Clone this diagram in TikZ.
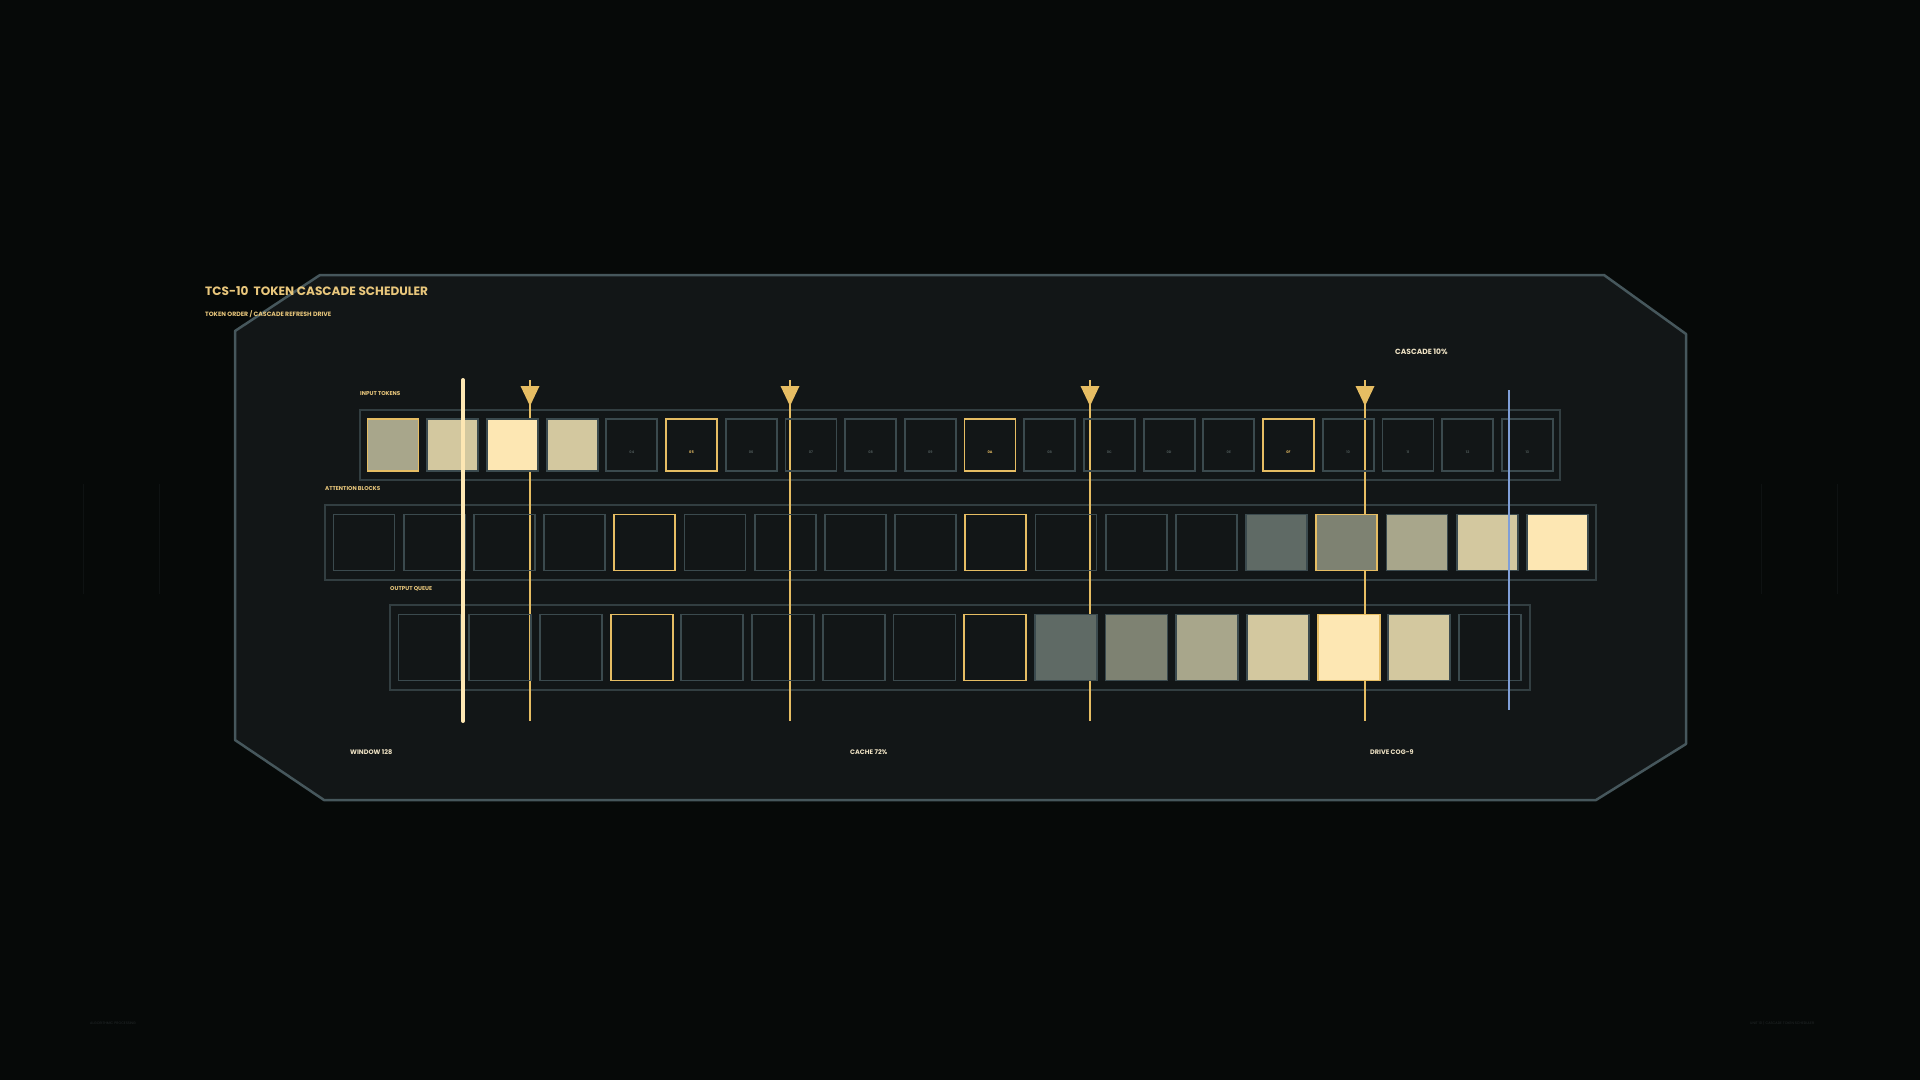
\documentclass[tikz,border=0pt]{standalone}
\usepackage{fontspec}
\setmainfont{Poppins}
\usetikzlibrary{calc}
\usetikzlibrary{positioning}

\definecolor{bg}{HTML}{060908}
\definecolor{panel}{HTML}{121617}
\definecolor{panelline}{HTML}{46575C}
\definecolor{rowline}{HTML}{323E41}
\definecolor{boxline}{HTML}{3B4A4E}
\definecolor{gold}{HTML}{E6BD63}
\definecolor{cream}{HTML}{FDE7B3}
\definecolor{haze}{HTML}{7F9FD8}
\definecolor{tanA}{HTML}{A8A68B}
\definecolor{tanB}{HTML}{D3C89F}
\definecolor{tanC}{HTML}{FDE7B3}
\definecolor{slateA}{HTML}{5F6A65}
\definecolor{slateB}{HTML}{7E8272}
\definecolor{titlecol}{HTML}{E9C77C}
\definecolor{labcol}{HTML}{EEE2C4}
\definecolor{dimtext}{HTML}{4B5656}
\definecolor{ghost}{HTML}{24292A}
\definecolor{edgemark}{HTML}{0E1212}

\begin{document}
\begin{tikzpicture}[x=1pt, y=-1pt, >=stealth,
    tok/.style={draw=boxline, line width=1.8pt, inner sep=0pt},
    toklab/.style={inner sep=0pt, font=\fontsize{3.5}{4}\selectfont\bfseries},
    rowbox/.style={draw=rowline, line width=1.5pt},
    tag/.style={anchor=west, inner sep=0pt, text=titlecol, font=\fontsize{5.6}{6}\selectfont\bfseries},
    readout/.style={anchor=west, inner sep=0pt, text=labcol, font=\fontsize{6.5}{7}\selectfont\bfseries}]
  \useasboundingbox (0,0) rectangle (1920,1080);
  \fill[bg] (0,0) rectangle (1920,1080);

  % Faint edge marks
  \foreach \x in {83,159,1761,1837}
    \draw[edgemark, line width=1pt] (\x,484) -- (\x,594);

  % Make the panel
  \filldraw[fill=panel, draw=panelline, line width=2.5pt, line join=round]
    (235,331) -- (320,275) -- (1604,275) -- (1686,334) -- (1686,744)
    -- (1596,800) -- (324,800) -- (235,740) -- cycle;

  \node[anchor=west, inner sep=0pt, text=titlecol, font=\fontsize{12.1}{13}\selectfont\bfseries]
    (title) at (205,291) {TCS-10\ \ TOKEN CASCADE SCHEDULER};
  \node[tag, font=\fontsize{6.2}{7}\selectfont\bfseries] (subtitle) at (205,314)
    {TOKEN ORDER / CASCADE REFRESH DRIVE};

  % Row frames and their tags
  \draw[rowbox] (360,410) rectangle (1560,480);
  \draw[rowbox] (325,505) rectangle (1596,580);
  \draw[rowbox] (390,605) rectangle (1530,690);
  \node[tag] (intag) at (360,394) {INPUT TOKENS};
  \node[tag] (atttag) at (325,489) {ATTENTION BLOCKS};
  \node[tag] (outtag) at (390,589) {OUTPUT QUEUE};

  % Drive lines, drawn under the filled blocks
  \foreach \x [count=\k] in {530,790,1090,1365}{
    \coordinate (d\k top) at (\x,380);
    \coordinate (d\k bot) at (\x,721);
    \draw[gold, line width=2.5pt] (d\k top) -- (d\k bot);
    \fill[gold] ($(d\k top)+(-9.5,6)$) -- ($(d\k top)+(9.5,6)$) -- ($(d\k top)+(0,26)$) -- cycle;
  }

  % Input tokens
  \foreach \c [count=\n from 0] in {tanA,tanB,tanC,tanB,none,none,none,none,none,none,none,none,none,none,none,none,none,none,none,none}{
    \pgfmathtruncatemacro\m{mod(\n,5)}
    \def\edge{boxline}
    \def\lc{dimtext}
    \ifnum\m=0 \def\edge{gold}\def\lc{gold}\fi
    \node[tok, draw=\edge, fill=\c, minimum width=51pt, minimum height=52pt]
      (in\n) at ({393+59.7*\n},445) {};
    \ifnum\n>3
      \pgfmathdectoBase\hx{\n}{16}
      \ifnum\n<16 \edef\hx{0\hx}\fi
      \node[toklab, text=\lc] (inlab\n) at ($(in\n.center)+(0,7)$) {\hx};
    \fi
  }

  % Attention blocks
  \foreach \c [count=\n from 0] in {none,none,none,none,none,none,none,none,none,none,none,none,none,slateA,slateB,tanA,tanB,tanC}{
    \pgfmathtruncatemacro\m{mod(\n,5)}
    \def\edge{boxline}
    \ifnum\m=4 \def\edge{gold}\fi
    \node[tok, draw=\edge, fill=\c, minimum width=61pt, minimum height=56pt]
      (att\n) at ({364+70.2*\n},542.5) {};
  }

  % Output queue
  \foreach \c [count=\n from 0] in {none,none,none,none,none,none,none,none,none,slateA,slateB,tanA,tanB,tanC,tanB,none}{
    \pgfmathtruncatemacro\m{mod(\n,5)}
    \def\edge{boxline}
    \ifnum\m=3 \def\edge{gold}\fi
    \node[tok, draw=\edge, fill=\c, minimum width=62pt, minimum height=66pt]
      (out\n) at ({429.5+70.7*\n},647.5) {};
  }

  % Window and probe lines, on top
  \coordinate (wtop) at (463,380);
  \coordinate (wbot) at (463,721);
  \draw[cream, line width=4pt, line cap=round] (wtop) -- (wbot);
  \coordinate (ptop) at (1509,390);
  \coordinate (pbot) at (1509,710);
  \draw[haze, line width=2.5pt] (ptop) -- (pbot);

  % Readouts
  \node[readout, font=\fontsize{7.5}{8}\selectfont\bfseries] (cascade) at (1395,352) {CASCADE 10\%};
  \node[readout] (window) at (350,752) {WINDOW 128};
  \node[readout] (cache) at (850,752) {CACHE 72\%};
  \node[readout] (drive) at (1370,752) {DRIVE COG-9};

  % Footer
  \node[anchor=west, inner sep=0pt, text=ghost, font=\fontsize{3.5}{4}\selectfont] (footl) at (90,1023) {ALGORITHMIC PROCESSING};
  \node[anchor=west, inner sep=0pt, text=ghost, font=\fontsize{3.5}{4}\selectfont] (footr) at (1750,1023) {UNIT 10 / CASCADE TOKEN SCHEDULER};
\end{tikzpicture}
\end{document}
